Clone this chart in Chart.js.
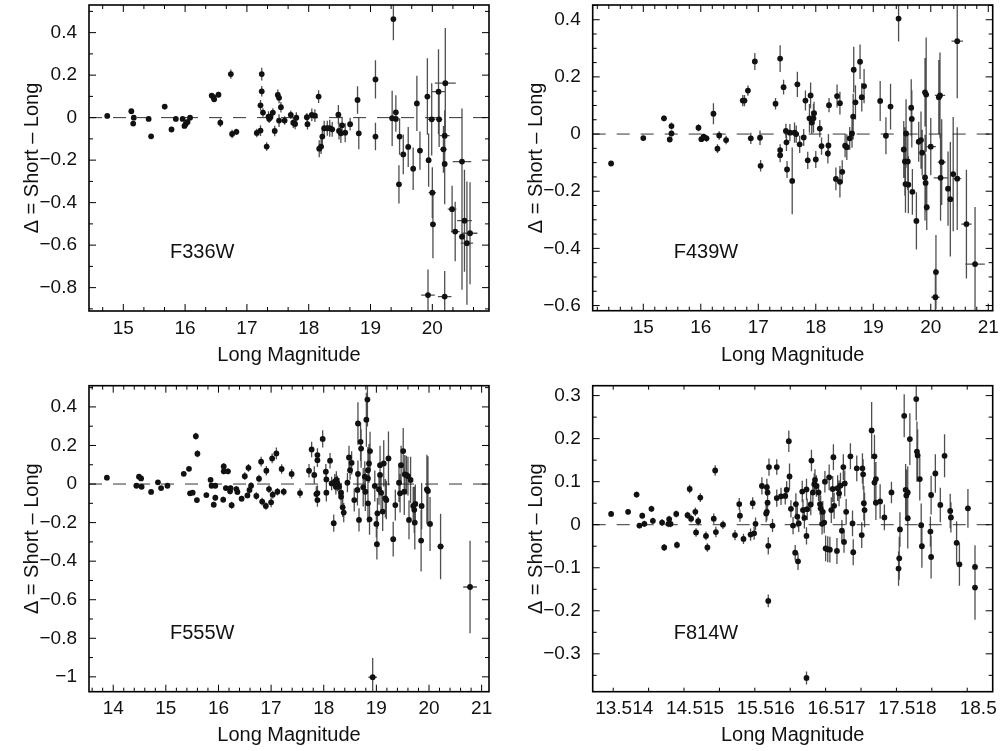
<!DOCTYPE html>
<html><head><meta charset="utf-8">
<script src="https://cdn.jsdelivr.net/npm/chart.js@4.4.1/dist/chart.umd.min.js"></script>
<style>
html,body{margin:0;padding:0;background:#fff;width:1000px;height:751px;overflow:hidden}
.panel{position:absolute}
canvas{display:block}
</style></head><body>
<div class="panel" style="left:0;top:0"><canvas id="c1" width="500" height="375"></canvas></div>
<div class="panel" style="left:500px;top:0"><canvas id="c2" width="500" height="375"></canvas></div>
<div class="panel" style="left:0;top:375px"><canvas id="c3" width="500" height="376"></canvas></div>
<div class="panel" style="left:500px;top:375px"><canvas id="c4" width="500" height="376"></canvas></div>
<script>
// ---------------- DATA ----------------
const xTitle = 'Long Magnitude';
const yTitle = 'Δ = Short – Long';
const filterNames = ['F336W', 'F439W', 'F555W', 'F814W'];
const f814wTickValues = [13.5, 14.5, 15.5, 16.5, 17.5, 18.5];
const f814wTickLabels = ['13.514', '14.515', '15.516', '16.517', '17.518', '18.5'];

// F336W
const f336wMag = [14.74,15.13,15.17,15.16,15.41,15.45,15.67,15.78,15.85,15.96,
 15.99,16.01,16.04,16.08,16.43,16.46,16.47,16.54,16.57,16.74,
 16.76,16.83,17.16,17.22,17.24,17.24,17.22,17.26,17.32,17.35,
 17.36,17.38,17.42,17.45,17.50,17.52,17.55,17.52,17.61,17.71,
 17.75,17.78,17.80,17.97,17.98,18.05,18.10,18.16,18.17,18.20,
 18.22,18.25,18.30,18.34,18.38,18.48,18.49,18.52,18.54,18.59,
 18.67,18.79,18.81,19.08,19.08,19.37,19.35,19.41,19.41,19.47,
 19.46,19.53,19.61,19.69,19.75,19.80,19.92,19.94,19.93,19.99,
 20.00,20.01,20.10,20.11,20.18,20.20,20.21,20.20,20.20,20.32,
 20.37,20.48,20.52,20.48,20.56,20.61];
const f336wDelta = [0.008,0.03,0.0,-0.028,-0.006,-0.088,0.052,-0.056,-0.006,-0.006,
 -0.039,-0.03,-0.02,0.0,0.104,0.096,0.086,0.108,-0.024,0.205,
 -0.077,-0.067,-0.072,-0.061,0.205,0.124,0.058,0.024,-0.136,0.005,
 -0.005,0.002,0.024,-0.063,0.107,0.093,0.049,-0.014,-0.014,0.013,
 -0.024,-0.03,0.0,0.002,-0.031,0.013,0.009,0.099,-0.146,-0.136,
 -0.089,-0.05,-0.05,-0.05,-0.055,0.014,-0.063,-0.074,-0.036,-0.071,
 -0.031,0.083,-0.074,-0.089,0.18,0.464,-0.003,0.025,-0.006,-0.089,
 -0.314,-0.173,-0.138,-0.24,0.067,-0.155,0.099,-0.2,-0.835,-0.008,
 -0.353,-0.502,0.122,-0.008,-0.149,-0.085,0.162,-0.218,-0.842,-0.431,
 -0.536,-0.207,-0.485,-0.56,-0.591,-0.544];
const f336wErr = [0.008,0.008,0.008,0.008,0.008,0.01,0.012,0.012,0.01,0.01,
 0.01,0.01,0.01,0.01,0.012,0.012,0.012,0.014,0.02,0.022,
 0.02,0.015,0.02,0.025,0.03,0.025,0.025,0.02,0.02,0.025,
 0.02,0.02,0.02,0.025,0.025,0.025,0.025,0.03,0.02,0.02,
 0.025,0.025,0.025,0.02,0.025,0.03,0.03,0.03,0.04,0.035,
 0.04,0.035,0.035,0.04,0.035,0.045,0.04,0.045,0.04,0.045,
 0.03,0.065,0.075,0.065,0.09,0.1,0.13,0.08,0.06,0.086,
 0.09,0.094,0.094,0.1,0.13,0.09,0.18,0.125,0.12,0.17,
 0.12,0.16,0.2,0.13,0.11,0.12,0.26,0.19,0.12,0.11,
 0.14,0.25,0.24,0.25,0.29,0.24];
const f336wMagErr = [0,0,0,0,0,0,0,0,0,0,
 0,0,0,0,0,0,0,0,0,0,
 0,0,0,0,0,0,0,0,0,0,
 0,0,0,0,0,0,0,0,0,0,
 0,0,0,0,0,0,0,0,0,0,
 0,0,0,0,0,0,0,0,0,0,
 0,0,0,0,0,0,0,0,0,0,
 0,0,0,0,0,0,0,0,0.11,0.06,
 0.06,0,0.1,0.05,0.05,0.08,0.17,0,0.11,0.07,
 0.07,0.15,0.12,0.05,0.1,0.12];

// F439W
const f439wMag = [14.44,15.00,15.36,15.46,15.49,15.49,15.96,16.01,16.05,16.10,
 16.22,16.29,16.32,16.44,16.73,16.76,16.82,16.87,16.94,17.03,
 17.04,17.30,17.38,17.38,17.38,17.44,17.48,17.49,17.50,17.55,
 17.59,17.63,17.66,17.68,17.72,17.79,17.82,17.86,17.89,17.91,
 17.93,17.96,17.97,18.00,18.07,18.10,18.21,18.22,18.23,18.35,
 18.37,18.42,18.42,18.46,18.51,18.54,18.59,18.63,18.65,18.66,
 18.69,18.77,18.80,18.84,19.12,19.22,19.30,19.44,19.53,19.55,
 19.57,19.56,19.60,19.61,19.66,19.67,19.68,19.75,19.79,19.83,
 19.85,19.90,19.92,19.90,19.91,19.93,20.00,20.09,20.08,20.14,
 20.16,20.19,20.17,20.30,20.34,20.39,20.46,20.46,20.62,20.77];
const f439wDelta = [-0.103,-0.014,0.055,-0.019,0.002,0.028,0.022,-0.018,-0.009,-0.015,
 0.071,-0.051,-0.005,-0.021,0.117,0.117,0.152,-0.015,0.254,-0.013,
 -0.111,0.106,0.264,-0.056,-0.074,0.164,0.011,-0.029,-0.124,0.005,
 -0.164,0.005,0.0,0.174,-0.036,-0.012,0.117,-0.092,0.055,0.135,
 0.04,0.055,0.073,-0.089,0.019,-0.042,-0.068,-0.04,0.101,-0.157,
 0.133,-0.167,0.108,-0.132,-0.041,-0.046,-0.015,0.002,0.061,0.225,
 0.111,0.253,0.129,0.168,0.116,-0.006,0.096,0.404,-0.054,-0.096,
 0.002,-0.175,-0.096,-0.177,0.092,0.053,-0.202,-0.304,-0.027,-0.021,
 -0.065,0.146,0.138,-0.152,-0.171,-0.256,-0.044,-0.483,-0.571,0.129,
 0.135,-0.098,-0.153,-0.191,-0.228,-0.14,-0.156,0.325,-0.315,-0.455];
const f439wErr = [0.008,0.008,0.01,0.01,0.01,0.012,0.012,0.01,0.01,0.012,
 0.037,0.015,0.015,0.015,0.02,0.02,0.018,0.02,0.03,0.025,
 0.02,0.02,0.047,0.02,0.025,0.026,0.025,0.03,0.03,0.03,
 0.117,0.035,0.03,0.044,0.03,0.03,0.035,0.03,0.05,0.045,
 0.04,0.05,0.04,0.03,0.03,0.03,0.035,0.04,0.025,0.04,
 0.04,0.055,0.04,0.04,0.04,0.045,0.04,0.05,0.08,0.08,
 0.06,0.06,0.05,0.06,0.07,0.065,0.08,0.08,0.1,0.12,
 0.12,0.1,0.1,0.1,0.1,0.1,0.08,0.1,0.07,0.1,
 0.08,0.12,0.2,0.15,0.1,0.08,0.1,0.13,0.1,0.13,
 0.15,0.15,0.15,0.13,0.2,0.2,0.18,0.2,0.19,0.2];
const f439wMagErr = [0,0,0,0,0,0,0,0,0,0,
 0,0,0,0,0,0,0,0,0,0,
 0,0,0,0,0,0,0,0,0,0,
 0,0,0,0,0,0,0,0,0,0,
 0,0,0,0,0,0,0,0,0,0,
 0,0,0,0,0,0,0,0,0,0,
 0,0,0,0,0,0,0,0,0,0,
 0,0,0,0,0,0,0,0,0,0,
 0,0,0,0,0,0,0.09,0,0.07,0,
 0.09,0.07,0.12,0,0,0,0.07,0.1,0.09,0.17];

// F555W
const f555wMag = [13.88,14.44,14.49,14.53,14.54,14.72,14.85,14.91,15.03,15.34,
 15.44,15.46,15.51,15.57,15.60,15.59,15.77,15.85,15.87,15.91,
 15.94,15.94,16.09,16.10,16.10,16.14,16.18,16.22,16.23,16.25,
 16.34,16.36,16.44,16.50,16.55,16.57,16.59,16.62,16.72,16.77,
 16.81,16.83,16.90,16.91,16.96,17.00,17.02,17.03,17.10,17.12,
 17.20,17.24,17.39,17.55,17.72,17.77,17.82,17.86,17.88,17.88,
 17.88,17.88,17.98,18.04,18.05,18.05,18.12,18.15,18.19,18.21,
 18.24,18.26,18.29,18.23,18.33,18.33,18.36,18.38,18.48,18.50,
 18.53,18.45,18.58,18.65,18.67,18.65,18.70,18.71,18.64,18.75,
 18.79,18.81,18.83,18.84,18.86,18.88,18.84,18.87,18.78,18.84,
 18.97,19.00,19.01,19.02,19.05,19.07,19.07,19.09,19.12,19.14,
 19.17,19.19,19.23,19.32,19.36,18.93,19.43,19.45,19.47,19.51,
 19.53,19.54,19.57,19.60,19.62,19.65,19.70,19.72,19.73,19.74,
 19.85,19.86,19.96,19.98,20.02,20.22,20.78];
const f555wDelta = [0.033,-0.009,0.038,0.029,-0.014,-0.041,0.009,-0.021,-0.009,0.053,
 0.079,-0.048,-0.045,0.248,0.157,-0.083,-0.057,0.022,-0.009,-0.107,
 -0.009,-0.071,-0.081,0.091,0.066,-0.021,0.066,-0.038,-0.021,-0.11,
 -0.026,-0.041,-0.076,0.041,-0.059,0.084,-0.031,-0.009,-0.062,0.028,
 0.116,-0.091,-0.114,0.069,-0.026,-0.095,0.133,-0.055,0.159,-0.04,
 0.078,-0.04,0.052,-0.047,0.069,0.179,0.047,-0.052,-0.083,-0.047,
 0.15,0.124,0.234,0.064,-0.045,0.024,0.121,0.003,-0.203,0.012,
 0.021,0.003,-0.014,-0.014,-0.045,-0.066,-0.121,-0.148,0.138,0.072,
 0.11,0.007,-0.083,0.052,-0.186,0.314,0.219,0.184,-0.031,-0.017,
 -0.04,0.334,0.438,0.072,0.107,0.171,-0.1,-0.183,0.038,0.029,
 -0.01,-0.207,-0.312,-0.152,-0.028,0.047,0.098,-0.045,-0.143,0.107,
 -0.074,-0.083,0.133,-0.286,-0.109,-1.002,0.007,-0.048,0.098,0.171,
 -0.04,0.05,0.047,0.041,-0.186,0.021,-0.114,-0.134,-0.2,-0.103,
 -0.293,-0.114,-0.028,-0.036,-0.207,-0.324,-0.534];
const f555wErr = [0.008,0.008,0.008,0.008,0.008,0.008,0.008,0.008,0.008,0.01,
 0.01,0.01,0.01,0.018,0.018,0.012,0.01,0.012,0.012,0.015,
 0.012,0.015,0.015,0.018,0.015,0.012,0.015,0.015,0.015,0.018,
 0.015,0.015,0.015,0.02,0.015,0.02,0.02,0.018,0.02,0.02,
 0.025,0.02,0.02,0.025,0.02,0.025,0.025,0.02,0.03,0.02,
 0.025,0.02,0.025,0.025,0.035,0.04,0.045,0.04,0.035,0.04,
 0.035,0.035,0.045,0.04,0.045,0.045,0.04,0.035,0.045,0.04,
 0.045,0.04,0.045,0.04,0.05,0.045,0.05,0.05,0.06,0.05,
 0.06,0.05,0.06,0.07,0.06,0.11,0.1,0.1,0.08,0.1,
 0.1,0.14,0.14,0.12,0.1,0.1,0.1,0.08,0.08,0.1,
 0.08,0.07,0.08,0.08,0.08,0.1,0.1,0.1,0.1,0.12,
 0.1,0.1,0.14,0.09,0.08,0.1,0.1,0.1,0.1,0.12,
 0.12,0.1,0.1,0.1,0.1,0.12,0.1,0.12,0.14,0.1,
 0.16,0.12,0.18,0.18,0.14,0.17,0.24];
const f555wMagErr = [0,0,0,0,0,0,0,0,0,0,
 0,0,0,0,0,0,0,0,0,0,
 0,0,0,0,0,0,0,0,0,0,
 0,0,0,0,0,0,0,0,0,0,
 0,0,0,0,0,0,0,0,0,0,
 0,0,0,0,0,0,0,0,0,0,
 0,0,0,0,0,0,0,0,0,0,
 0,0,0,0,0,0,0,0,0,0,
 0,0,0,0,0,0,0,0,0,0,
 0,0,0,0,0,0,0,0,0,0,
 0,0,0,0,0,0,0,0,0,0,
 0,0,0,0,0,0.08,0,0,0,0,
 0,0,0,0,0,0,0,0,0,0,
 0,0,0,0,0,0.06,0.13];

// F814W
const f814wMag = [13.47,13.71,13.83,13.87,13.91,13.94,14.04,14.06,14.19,14.22,
 14.28,14.29,14.31,14.39,14.40,14.55,14.58,14.60,14.66,14.67,
 14.70,14.73,14.81,14.83,14.92,14.94,14.95,15.05,15.22,15.28,
 15.29,15.34,15.44,15.47,15.49,15.51,15.60,15.67,15.68,15.66,
 15.67,15.68,15.69,15.69,15.70,15.75,15.81,15.81,15.87,15.93,
 15.95,15.98,15.99,16.01,16.04,16.08,16.07,16.10,16.11,16.12,
 16.17,16.18,16.20,16.23,16.23,16.24,16.29,16.30,16.32,16.34,
 16.35,16.37,16.40,16.42,16.43,16.45,16.46,16.48,16.49,16.50,
 16.53,16.55,16.56,16.58,16.60,16.61,16.62,16.66,16.67,16.69,
 16.71,16.73,16.75,16.76,16.77,16.79,16.23,16.85,16.88,16.89,
 16.94,17.01,17.02,17.03,17.04,17.05,17.15,17.19,17.19,17.21,
 17.21,17.27,17.33,17.43,17.53,17.54,17.55,17.61,17.63,17.64,
 17.66,17.66,17.69,17.78,17.79,17.80,17.83,17.85,17.86,17.98,
 17.99,17.99,18.05,18.12,18.18,18.26,18.27,18.35,18.39,18.51,
 18.61,18.61];
const f814wDelta = [0.025,0.03,0.07,-0.002,0.021,0.002,0.037,0.009,0.005,-0.053,
 0.002,0.013,0.002,0.025,-0.047,0.022,0.083,0.014,0.03,-0.018,
 0.008,0.063,-0.026,-0.053,0.014,0.126,-0.017,0.0,-0.024,0.048,
 0.021,-0.033,-0.023,0.05,-0.02,0.002,0.09,0.087,0.075,0.026,
 0.03,0.051,-0.049,-0.177,0.134,-0.002,0.134,0.062,0.066,0.067,
 0.081,0.194,0.112,0.037,-0.002,0.048,-0.065,0.019,-0.085,0.003,
 0.077,0.034,0.016,0.082,-0.026,0.036,0.047,0.149,0.075,0.094,
 0.104,0.09,0.075,0.048,0.038,0.002,0.03,0.005,0.1,-0.055,
 -0.057,0.11,-0.058,0.034,0.083,0.157,0.044,-0.061,0.085,0.073,
 0.091,-0.014,0.134,-0.04,0.096,0.03,-0.356,0.159,0.003,-0.064,
 0.131,-0.024,0.131,0.117,0.05,0.034,0.219,0.159,0.098,0.106,
 0.051,0.054,0.017,0.075,-0.102,-0.078,-0.011,0.253,0.081,0.068,
 0.075,0.015,0.199,0.292,0.17,0.161,0.106,-0.001,-0.05,-0.016,
 0.069,-0.075,0.119,0.046,0.16,0.032,0.017,-0.042,-0.092,0.038,
 -0.098,-0.146];
const f814wErr = [0.006,0.006,0.007,0.006,0.007,0.007,0.007,0.007,0.008,0.008,
 0.008,0.008,0.008,0.008,0.008,0.008,0.01,0.009,0.01,0.01,
 0.01,0.01,0.01,0.01,0.012,0.012,0.012,0.01,0.012,0.014,
 0.014,0.012,0.014,0.014,0.015,0.015,0.02,0.02,0.02,0.02,
 0.02,0.02,0.02,0.015,0.02,0.015,0.018,0.02,0.02,0.02,
 0.02,0.025,0.03,0.02,0.02,0.025,0.018,0.025,0.02,0.02,
 0.025,0.025,0.025,0.025,0.02,0.025,0.025,0.025,0.025,0.025,
 0.025,0.025,0.02,0.025,0.03,0.025,0.025,0.025,0.025,0.03,
 0.03,0.03,0.03,0.03,0.03,0.03,0.03,0.03,0.03,0.03,
 0.03,0.025,0.03,0.025,0.03,0.03,0.015,0.03,0.03,0.03,
 0.03,0.03,0.035,0.035,0.04,0.04,0.066,0.05,0.05,0.04,
 0.04,0.04,0.03,0.025,0.04,0.05,0.04,0.05,0.06,0.06,
 0.06,0.07,0.06,0.05,0.07,0.06,0.05,0.05,0.05,0.035,
 0.045,0.05,0.045,0.04,0.05,0.04,0.035,0.05,0.05,0.045,
 0.05,0.075];

// ---------------- RENDERING ----------------
Chart.defaults.font.family = "'Liberation Sans', Arial, Helvetica, sans-serif";
Chart.defaults.color = '#000';

const FONT = "'Liberation Sans', Arial, Helvetica, sans-serif";

function fmtY(v) {
  if (Math.abs(v) < 1e-9) return '0';
  const s = String(parseFloat(Math.abs(v).toFixed(3)));
  return (v < 0 ? '\u2212' : '') + s;
}
function fmtX(v) { return String(parseFloat(v.toFixed(3))); }

function minorValues(min, max, step) {
  const out = [];
  let k = Math.ceil(min / step - 1e-6);
  for (; k * step <= max + 1e-9; k++) out.push(k * step);
  return out;
}

const panelSpecs = [
  { id: 'c1', label: filterNames[0], mag: f336wMag, delta: f336wDelta, err: f336wErr, magErr: f336wMagErr,
    xMin: 14.445, xMax: 20.917, xStep: 1, xMinor: 1/3, yMin: -0.91, yMax: 0.53, yStep: 0.2, yMinor: 0.1,
    w: 500, h: 375, area: { left: 89, right: 489, top: 5, bottom: 311 }, yTitlePad: 20, xTitlePad: 8 },
  { id: 'c2', label: filterNames[1], mag: f439wMag, delta: f439wDelta, err: f439wErr, magErr: f439wMagErr,
    xMin: 14.12, xMax: 21.077, xStep: 1, xMinor: 0.2, yMin: -0.618, yMax: 0.4515, yStep: 0.2, yMinor: 0.05,
    w: 500, h: 375, area: { left: 92.7, right: 492.7, top: 5, bottom: 310.7 }, yTitlePad: 24, xTitlePad: 8 },
  { id: 'c3', label: filterNames[2], mag: f555wMag, delta: f555wDelta, err: f555wErr, magErr: f555wMagErr,
    xMin: 13.54, xMax: 21.14, xStep: 1, xMinor: 0.2, yMin: -1.077, yMax: 0.51, yStep: 0.2, yMinor: 0.1,
    w: 500, h: 376, area: { left: 89, right: 489, top: 10.7, bottom: 316.7 }, yTitlePad: 20, xTitlePad: 4 },
  { id: 'c4', label: filterNames[3], mag: f814wMag, delta: f814wDelta, err: f814wErr, magErr: null,
    xMin: 13.21, xMax: 18.86, xStep: 1, xMinor: 0.5, yMin: -0.388, yMax: 0.323, yStep: 0.1, yMinor: 0.05,
    customXTicks: f814wTickValues, customXLabels: f814wTickLabels, labelOffset: 11, xMajorShort: true,
    w: 500, h: 376, area: { left: 92.7, right: 492.7, top: 10.7, bottom: 316.7 }, yTitlePad: 24, xTitlePad: 4 }
];

function makeDecor(p) {
  return {
    id: 'decor_' + p.id,
    beforeDatasetsDraw(chart) {
      const { ctx, chartArea: a } = chart;
      const xs = chart.scales.x, ys = chart.scales.y;
      ctx.save();
      ctx.beginPath();
      ctx.rect(a.left, a.top, a.right - a.left, a.bottom - a.top);
      ctx.clip();
      const y0 = ys.getPixelForValue(0);
      ctx.strokeStyle = '#333';
      ctx.lineWidth = 1;
      ctx.setLineDash([13, 11]);
      ctx.beginPath();
      ctx.moveTo(a.left, y0);
      ctx.lineTo(a.right, y0);
      ctx.stroke();
      ctx.setLineDash([]);
      ctx.strokeStyle = 'rgba(35,35,35,0.8)';
      ctx.lineWidth = 1.3;
      ctx.beginPath();
      p.mag.forEach((m, i) => {
        const d = p.delta[i], e = p.err[i], ex = p.magErr ? p.magErr[i] : 0;
        const px = xs.getPixelForValue(m);
        ctx.moveTo(px, ys.getPixelForValue(d + e));
        ctx.lineTo(px, ys.getPixelForValue(d - e));
        if (ex > 0) {
          const py = ys.getPixelForValue(d);
          ctx.moveTo(xs.getPixelForValue(m - ex), py);
          ctx.lineTo(xs.getPixelForValue(m + ex), py);
        }
      });
      ctx.stroke();
      ctx.restore();
    },
    afterDraw(chart) {
      const { ctx, chartArea: a } = chart;
      const xs = chart.scales.x, ys = chart.scales.y;
      ctx.save();
      ctx.strokeStyle = '#000';
      ctx.lineWidth = 1;
      const majLen = 7, minLen = 4;
      const xMaj = xs.ticks.map(t => t.value);
      const yMaj = ys.ticks.map(t => t.value);
      const isIn = (v, arr) => arr.some(q => Math.abs(q - v) < 1e-6);
      ctx.beginPath();
      const xTick = (v, len) => {
        const px = xs.getPixelForValue(v);
        ctx.moveTo(px, a.bottom); ctx.lineTo(px, a.bottom - len);
        ctx.moveTo(px, a.top); ctx.lineTo(px, a.top + len);
      };
      const yTick = (v, len) => {
        const py = ys.getPixelForValue(v);
        ctx.moveTo(a.left, py); ctx.lineTo(a.left + len, py);
        ctx.moveTo(a.right, py); ctx.lineTo(a.right - len, py);
      };
      xMaj.forEach(v => xTick(v, p.xMajorShort ? minLen : majLen));
      minorValues(p.xMin, p.xMax, p.xMinor).forEach(v => { if (!isIn(v, xMaj)) xTick(v, minLen); });
      yMaj.forEach(v => yTick(v, majLen));
      minorValues(p.yMin, p.yMax, p.yMinor).forEach(v => { if (!isIn(v, yMaj)) yTick(v, minLen); });
      ctx.stroke();
      ctx.lineWidth = 1.6;
      ctx.strokeRect(a.left, a.top, a.right - a.left, a.bottom - a.top);
      ctx.fillStyle = '#111';
      ctx.font = '20px ' + FONT;
      ctx.textBaseline = 'alphabetic';
      ctx.textAlign = 'left';
      ctx.fillText(p.label, a.left + 81, a.top + 253);
      ctx.restore();
    }
  };
}

panelSpecs.forEach(p => {
  const pts = p.mag.map((m, i) => ({ x: m, y: p.delta[i] }));
  const xTicks = {
    stepSize: p.xStep, padding: 6, font: { size: 19 }, includeBounds: false,
    maxRotation: 0, minRotation: 0, autoSkip: false, color: '#111',
    callback: (v, i) => p.customXLabels ? p.customXLabels[i] : fmtX(v)
  };
  if (p.labelOffset) xTicks.labelOffset = p.labelOffset;
  new Chart(document.getElementById(p.id), {
    type: 'scatter',
    data: { datasets: [{ data: pts, pointRadius: 2.9, pointHoverRadius: 2.9,
      pointBackgroundColor: '#111', pointBorderWidth: 0, showLine: false }] },
    options: {
      responsive: false, animation: false, devicePixelRatio: 1,
      events: [],
      layout: { padding: { left: 0, right: p.w - p.area.right, top: p.area.top, bottom: 0 } },
      plugins: { legend: { display: false }, tooltip: { enabled: false } },
      scales: {
        x: {
          type: 'linear', min: p.xMin, max: p.xMax,
          grid: { display: false, drawTicks: false }, border: { display: false },
          ticks: xTicks,
          afterBuildTicks: p.customXTicks ? (s => { s.ticks = p.customXTicks.map(v => ({ value: v })); }) : undefined,
          title: { display: true, text: xTitle, font: { size: 20 }, color: '#111', padding: { top: 0, bottom: p.xTitlePad } },
          afterFit: s => { s.height = p.h - p.area.bottom; s.paddingLeft = 0; s.paddingRight = 0; }
        },
        y: {
          type: 'linear', min: p.yMin, max: p.yMax,
          grid: { display: false, drawTicks: false }, border: { display: false },
          ticks: { stepSize: p.yStep, padding: 12, font: { size: 19 }, includeBounds: false, color: '#111',
            autoSkip: false, callback: v => fmtY(v) },
          title: { display: true, text: yTitle, font: { size: 20 }, color: '#111', padding: { top: p.yTitlePad, bottom: 0 } },
          afterFit: s => { s.width = p.area.left; s.paddingTop = 0; s.paddingBottom = 0; }
        }
      }
    },
    plugins: [makeDecor(p)]
  });
});
</script>
</body></html>
